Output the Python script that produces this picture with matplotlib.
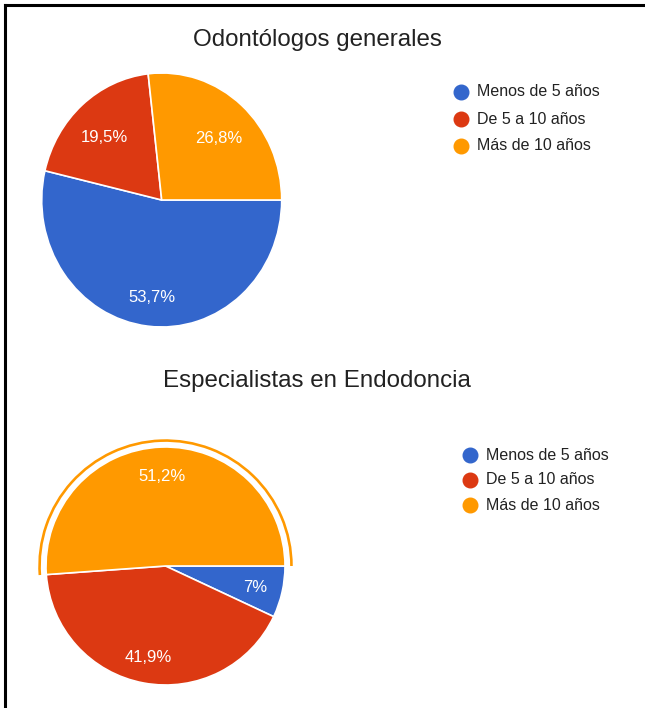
import numpy as np
import matplotlib
matplotlib.use("Agg")
import matplotlib.pyplot as plt
from matplotlib.patches import Wedge
from matplotlib.lines import Line2D

plt.rcParams['font.family'] = ['Liberation Sans', 'DejaVu Sans']

# data
categories = ['Menos de 5 años', 'De 5 a 10 años', 'Más de 10 años']
colors = ['#3366CC', '#DC3912', '#FF9900']
top_title = 'Odontólogos generales'
top_values = [53.7, 19.5, 26.8]
bottom_title = 'Especialistas en Endodoncia'
bottom_values = [7.0, 41.9, 51.2]

W, H = 645, 708
fig = plt.figure(figsize=(W / 100, H / 100), dpi=100)
fig.patch.set_facecolor('white')


def px_axes(cx, cy, rx, ry, pad=1.12):
    # axes centred on a pixel position, radius 1 in data units
    ax = fig.add_axes([(cx - rx * pad) / W, 1 - (cy + ry * pad) / H,
                       2 * rx * pad / W, 2 * ry * pad / H])
    return ax


def fix_limits(ax, pad):
    ax.set_aspect('auto')
    ax.set_xlim(-pad, pad)
    ax.set_ylim(-pad, pad)
    ax.axis('off')


def fmt(v):
    s = ('%.1f' % v).rstrip('0').rstrip('.')
    return s.replace('.', ',') + '%'


def draw_pie(ax, values, pctdist, yshift):
    wedges, texts = ax.pie(values, colors=colors, startangle=0, counterclock=False,
                           radius=1.0, wedgeprops=dict(edgecolor='white', linewidth=1.2))
    total = sum(values)
    ang = 0.0
    for v in values:
        mid = ang - 360 * v / total / 2
        ang -= 360 * v / total
        t = np.deg2rad(mid)
        ax.text(pctdist * np.cos(t), pctdist * np.sin(t) - yshift, fmt(v), color='white',
                fontsize=12, ha='center', va='center')
    return wedges


# top pie
ax1 = px_axes(161.7, 200, 120, 127, pad=1.12)
draw_pie(ax1, top_values, 0.72, 0.05)
fix_limits(ax1, 1.12)

# bottom pie
ax2 = px_axes(165.5, 566, 119.5, 119, pad=1.15)
w2 = draw_pie(ax2, bottom_values, 0.77, 0.015)
# highlight ring around the last slice
hl = w2[2]
ring = Wedge((0, 0), 1.065, hl.theta1, hl.theta2, width=0.022,
             facecolor=colors[2], edgecolor='none')
ax2.add_patch(ring)
fix_limits(ax2, 1.15)

# titles
fig.text(317 / W, 1 - 40 / H, top_title, ha='center', va='center', fontsize=17.4, color='#222222')
fig.text(317 / W, 1 - 381 / H, bottom_title, ha='center', va='center', fontsize=17.4, color='#222222')

# legends
def legend(x, y0, dy):
    for i, (c, lab) in enumerate(zip(colors, categories)):
        y = y0 + i * dy
        fig.add_artist(Line2D([x / W], [1 - y / H], marker='o', markersize=10.5,
                              color=c, linestyle='none'))
        fig.text((x + 16) / W, 1 - y / H, lab, ha='left', va='center',
                 fontsize=11.5, color='#222222')


legend(461, 92, 27)
legend(470, 455, 25)

# frame lines (top and left)
fig.add_artist(Line2D([5 / W, 1], [1 - 5 / H, 1 - 5 / H], color='black', linewidth=2.2))
fig.add_artist(Line2D([5 / W, 5 / W], [0, 1 - 5 / H], color='black', linewidth=2.2))

fig.savefig('out.png', dpi=100, facecolor='white')
